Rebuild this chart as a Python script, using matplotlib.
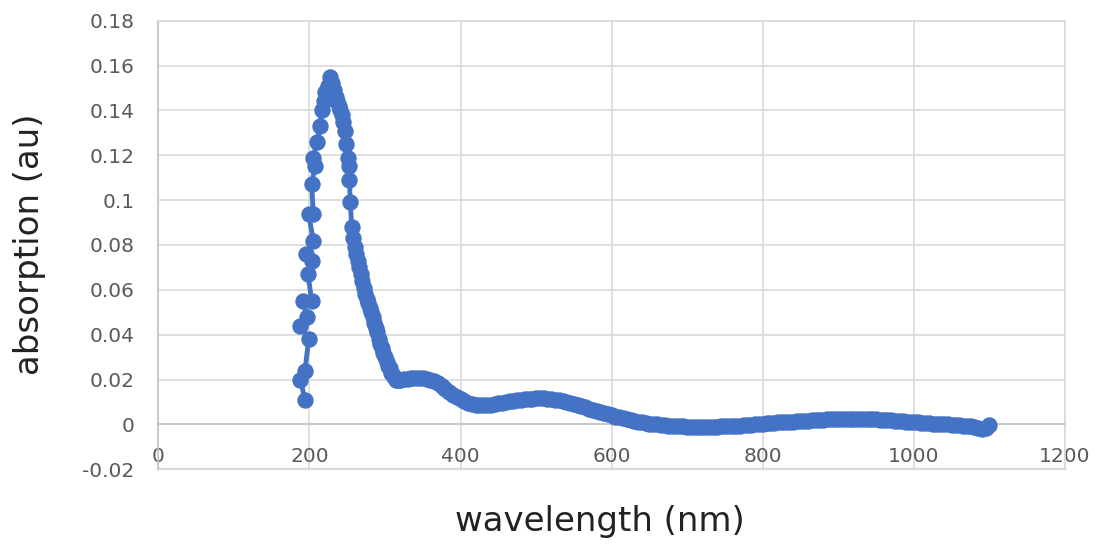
import matplotlib.pyplot as plt

# UV edge + peak, listed in the order the trace runs through it
peak_nm = [194, 188, 194, 199, 188, 197, 191, 203, 198, 204, 196, 205, 199, 205,
           203, 207, 205, 210, 214, 216, 219, 221, 224, 227,
           230, 232, 235, 237, 239, 241, 243, 245, 247, 249, 251, 252, 253, 254,
           256, 258, 260, 262, 264, 266, 268, 270, 272, 274, 276, 278, 280, 282,
           284, 286, 288, 290, 292, 294, 296, 298, 300, 302, 304, 306, 308, 310,
           312, 314, 316, 318]
peak_abs = [0.011, 0.020, 0.024, 0.038, 0.044, 0.048, 0.055, 0.055, 0.067, 0.073,
            0.076, 0.082, 0.094, 0.094, 0.107, 0.115, 0.119, 0.126, 0.133, 0.140,
            0.144, 0.148, 0.151, 0.155,
            0.152, 0.149, 0.146, 0.144, 0.142, 0.140, 0.138, 0.135, 0.131, 0.125,
            0.119, 0.115, 0.109, 0.099, 0.088, 0.083, 0.079, 0.076, 0.073, 0.070,
            0.067, 0.064, 0.061, 0.058, 0.056, 0.054, 0.052, 0.050, 0.048, 0.045,
            0.043, 0.041, 0.038, 0.036, 0.034, 0.032, 0.030, 0.028, 0.026, 0.025,
            0.023, 0.022, 0.021, 0.020, 0.0198, 0.0199]

# visible / NIR tail, every 5 nm from 320 to 1100
tail_nm = list(range(320, 1101, 5))
tail_abs = [
    0.0200, 0.0201, 0.0203, 0.0205, 0.0206, 0.0206, 0.0205, 0.0202, 0.0198, 0.0192,  # 320-365
    0.0184, 0.0173, 0.0160, 0.0146, 0.0133, 0.0122, 0.0112, 0.0103, 0.0095, 0.0090,  # 370-415
    0.0087, 0.0086, 0.0085, 0.0086, 0.0088, 0.0091, 0.0094, 0.0097, 0.0100, 0.0103,  # 420-465
    0.0105, 0.0108, 0.0110, 0.0112, 0.0113, 0.0115, 0.0116, 0.0116, 0.0116, 0.0114,  # 470-515
    0.0112, 0.0110, 0.0107, 0.0103, 0.0099, 0.0095, 0.0090, 0.0085, 0.0080, 0.0076,  # 520-565
    0.0071, 0.0066, 0.0061, 0.0055, 0.0050, 0.0045, 0.0040, 0.0035, 0.0031, 0.0027,  # 570-615
    0.0023, 0.0019, 0.0016, 0.0012, 0.0009, 0.0006, 0.0004, 0.0002, 0.0000, -0.0002,  # 620-665
    -0.0003, -0.0005, -0.0006, -0.0007, -0.0008, -0.0009, -0.0010, -0.0010, -0.0011, -0.0011,  # 670-715
    -0.0011, -0.0011, -0.0010, -0.0010, -0.0010, -0.0009, -0.0008, -0.0008, -0.0007, -0.0006,  # 720-765
    -0.0005, -0.0004, -0.0002, -0.0001, 0.0000, 0.0002, 0.0003, 0.0005, 0.0006, 0.0008,  # 770-815
    0.0009, 0.0010, 0.0011, 0.0012, 0.0013, 0.0014, 0.0015, 0.0016, 0.0017, 0.0018,  # 820-865
    0.0019, 0.0020, 0.0021, 0.0022, 0.0023, 0.0024, 0.0024, 0.0025, 0.0026, 0.0026,  # 870-915
    0.0025, 0.0025, 0.0024, 0.0024, 0.0023, 0.0023, 0.0022, 0.0021, 0.0020, 0.0019,  # 920-965
    0.0018, 0.0017, 0.0016, 0.0014, 0.0013, 0.0012, 0.0011, 0.0009, 0.0008, 0.0007,  # 970-1015
    0.0006, 0.0004, 0.0003, 0.0002, 0.0001, 0.0000, -0.0001, -0.0003, -0.0004, -0.0005,  # 1020-1065
    -0.0006, -0.0008, -0.0010, -0.0016, -0.0020, -0.0014, -0.0002,  # 1070-1100
]

x_ticks = [0, 200, 400, 600, 800, 1000, 1200]
y_ticks = [-0.02, 0, 0.02, 0.04, 0.06, 0.08, 0.1, 0.12, 0.14, 0.16, 0.18]

wavelength = peak_nm + tail_nm
absorption = peak_abs + tail_abs

fig = plt.figure(figsize=(11.05, 5.49), dpi=100)
ax = fig.add_axes([0.1433, 0.1452, 0.8205, 0.8171])

ax.plot(wavelength, absorption, color="#4472C4", lw=3.5, marker="o",
        markersize=11.8, markeredgewidth=0, zorder=3)

ax.set_xlim(0, 1200)
ax.set_ylim(-0.02, 0.18)
ax.set_xticks(x_ticks)
ax.set_yticks(y_ticks)
ax.set_xticklabels([str(t) for t in x_ticks])
ax.set_yticklabels(["%g" % t for t in y_ticks])

ax.grid(True, color="#d9d9d9", lw=1.2, zorder=0)
ax.set_axisbelow(True)

ax.spines["bottom"].set_position(("data", 0))
ax.spines["bottom"].set_color("#c4c4c4")
ax.spines["left"].set_color("#c4c4c4")
ax.spines["top"].set_color("#d9d9d9")
ax.spines["right"].set_color("#d9d9d9")
for s in ax.spines.values():
    s.set_linewidth(1.2)
ax.axhline(-0.02, color="#d9d9d9", lw=1.6, clip_on=False, zorder=0)

ax.tick_params(axis="both", length=0, labelsize=14.5, labelcolor="#595959")
ax.tick_params(axis="x", pad=16)
ax.tick_params(axis="y", pad=17)

fig.text(600 / 1105, 1 - 521 / 549, "wavelength (nm)", fontsize=24.5,
         color="#222222", ha="center", va="center")
fig.text(30 / 1105, 1 - 244 / 549, "absorption (au)", fontsize=24.5,
         color="#222222", ha="center", va="center", rotation=90)

fig.savefig("out.png", dpi=100)
